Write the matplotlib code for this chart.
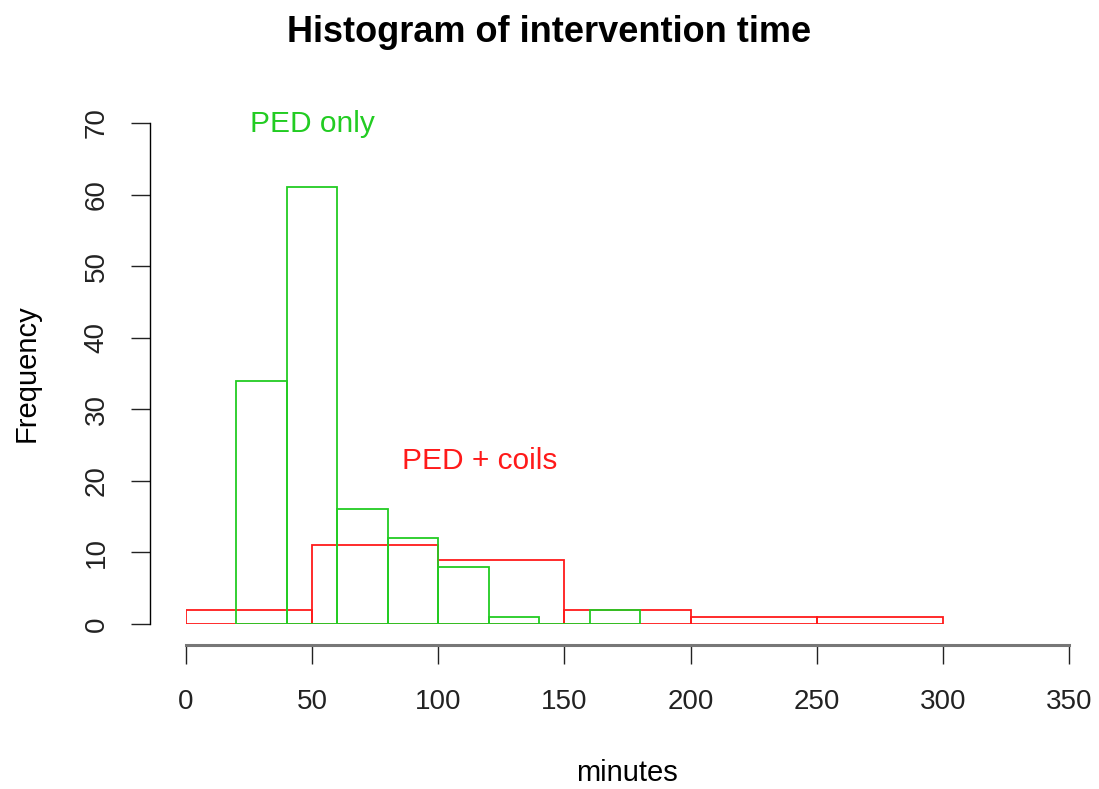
import numpy as np
import matplotlib
matplotlib.use("Agg")
import matplotlib.pyplot as plt

# PED only: 20-minute bins
ped_edges = [20, 40, 60, 80, 100, 120, 140, 160]
ped_counts = [34, 61, 16, 12, 8, 1, 0, 2]
ped_width = 20

# PED + coils: 50-minute bins
coil_edges = [0, 50, 100, 150, 200, 250]
coil_counts = [2, 11, 9, 2, 1, 1]
coil_width = 50

xticks = [0, 50, 100, 150, 200, 250, 300, 350]
yticks = [0, 10, 20, 30, 40, 50, 60, 70]

green = "#22cc22"
red = "#ff1a1a"

plt.rcParams['font.family'] = ['Liberation Sans', 'DejaVu Sans']

fig = plt.figure(figsize=(10.99, 7.89), dpi=100)
ax = fig.add_axes([186 / 1099, 1 - 624 / 789, (1069 - 186) / 1099, (624 - 123) / 789])

ax.bar(coil_edges, coil_counts, width=coil_width, align='edge', fill=False,
       edgecolor=red, linewidth=1.3)
ax.bar(ped_edges, ped_counts, width=ped_width, align='edge', fill=False,
       edgecolor=green, linewidth=1.3)

ax.set_xlim(0, 350)
ax.set_ylim(0, 70)
ax.set_xticks(xticks)
ax.set_yticks(yticks)

for s in ['top', 'right']:
    ax.spines[s].set_visible(False)
ax.spines['left'].set_position(('outward', 26))
ax.spines['bottom'].set_position(('outward', 15))
ax.spines['left'].set_bounds(0, 70)
ax.spines['bottom'].set_bounds(0, 350)
ax.spines['bottom'].set_color('#777777')
ax.spines['bottom'].set_linewidth(2.2)
ax.spines['left'].set_linewidth(1.0)
ax.tick_params(axis='both', direction='out', length=14, width=1.0,
               labelsize=20, colors='#222222')
ax.tick_params(axis='x', pad=18)
ax.tick_params(axis='y', pad=15, labelrotation=90)
for lab in ax.get_yticklabels():
    lab.set_va('center')

ax.set_xlabel('minutes', fontsize=21, va='center')
ax.set_ylabel('Frequency', fontsize=21, va='center')
ax.xaxis.set_label_coords((627 - 186) / 883, (624 - 773) / 501)
ax.yaxis.set_label_coords((27 - 186) / 883, (624 - 373) / 501)
fig.suptitle('Histogram of intervention time', fontsize=26, fontweight='bold',
             y=1 - 32 / 789, va='center')

ax.text(50, 69.8, 'PED only', color=green, fontsize=21.5, ha='center', va='center')
ax.text(116.5, 22.8, 'PED + coils', color=red, fontsize=21.5, ha='center', va='center')

fig.savefig('out.png', dpi=100)
